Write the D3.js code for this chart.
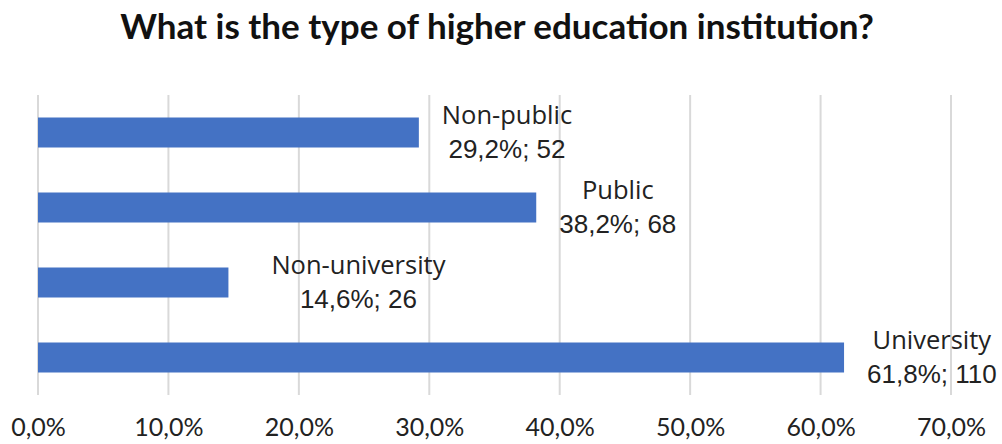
<!DOCTYPE html>
<html>
<head>
<meta charset="utf-8">
<script src="https://cdn.jsdelivr.net/npm/d3@7"></script>
<style>
  html, body { margin: 0; padding: 0; background: #fff; }
  svg { display: block; }
</style>
</head>
<body>
<svg id="chart" width="1002" height="444"></svg>
<script>
// Survey answers: institution type, share of respondents and count
const categories = ["Non-public", "Public", "Non-university", "University"];
const percents = [29.2, 38.2, 14.6, 61.8];
const counts = [52, 68, 26, 110];
const tickValues = [0, 10, 20, 30, 40, 50, 60, 70];
const tickLabels = ["0,0%", "10,0%", "20,0%", "30,0%", "40,0%", "50,0%", "60,0%", "70,0%"];
const titleText = "What is the type of higher education institution?";

const svg = d3.select("#chart");
const plot = { left: 38, right: 951, top: 95, bottom: 395 };

const x = d3.scaleLinear().domain([0, 70]).range([plot.left, plot.right]);
const y = d3.scaleBand().domain(categories).range([plot.top, plot.bottom]).paddingInner(0.6).paddingOuter(0.3);

const fmtPct = v => v.toFixed(1).replace(".", ",") + "%";

// Title
svg.append("text")
  .attr("x", 497).attr("y", 39)
  .attr("text-anchor", "middle")
  .attr("font-family", "Lato, 'Open Sans', sans-serif")
  .attr("font-weight", 700)
  .attr("font-size", 35)
  .attr("fill", "#111")
  .text(titleText);

// Vertical gridlines
svg.append("g")
  .selectAll("line")
  .data(tickValues)
  .join("line")
  .attr("x1", d => x(d)).attr("x2", d => x(d))
  .attr("y1", plot.top).attr("y2", plot.bottom)
  .attr("stroke", "#d9d9d9")
  .attr("stroke-width", 2);

// Bottom axis labels
const axis = d3.axisBottom(x)
  .tickValues(tickValues)
  .tickFormat((d, i) => tickLabels[i])
  .tickSize(0)
  .tickPadding(0);
const gAxis = svg.append("g")
  .attr("transform", `translate(0, ${plot.bottom + 23})`)
  .call(axis);
gAxis.select(".domain").remove();
gAxis.selectAll("text")
  .attr("font-family", "Lato, 'Open Sans', sans-serif")
  .attr("font-size", 25)
  .attr("fill", "#222");

// Bars
svg.append("g")
  .selectAll("rect")
  .data(categories)
  .join("rect")
  .attr("x", x(0))
  .attr("y", d => y(d))
  .attr("width", (d, i) => x(percents[i]) - x(0))
  .attr("height", y.bandwidth())
  .attr("fill", "#4472C4");

// Data labels: category on top line, percent and count below.
// The Non-university label sits a little further out from its bar.
const labelShift = { "Non-university": 20 };
const labels = svg.append("g")
  .selectAll("g")
  .data(categories)
  .join("g");

labels.each(function (d, i) {
  const g = d3.select(this);
  const cy = y(d) + y.bandwidth() / 2;
  const t1 = g.append("text")
    .attr("text-anchor", "middle")
    .attr("font-family", "'Open Sans', 'Noto Sans', sans-serif")
    .attr("font-size", 25.5)
    .attr("fill", "#222")
    .attr("y", cy - 9)
    .text(d);
  const t2 = g.append("text")
    .attr("text-anchor", "middle")
    .attr("font-family", "'Liberation Sans', Arial, sans-serif")
    .attr("font-size", 26)
    .attr("fill", "#222")
    .attr("y", cy + 25)
    .text(`${fmtPct(percents[i])}; ${counts[i]}`);
  const w = Math.max(t1.node().getComputedTextLength(), t2.node().getComputedTextLength());
  const cx = x(percents[i]) + 23 + (labelShift[d] || 0) + w / 2;
  t1.attr("x", cx);
  t2.attr("x", cx);
});
</script>
</body>
</html>
